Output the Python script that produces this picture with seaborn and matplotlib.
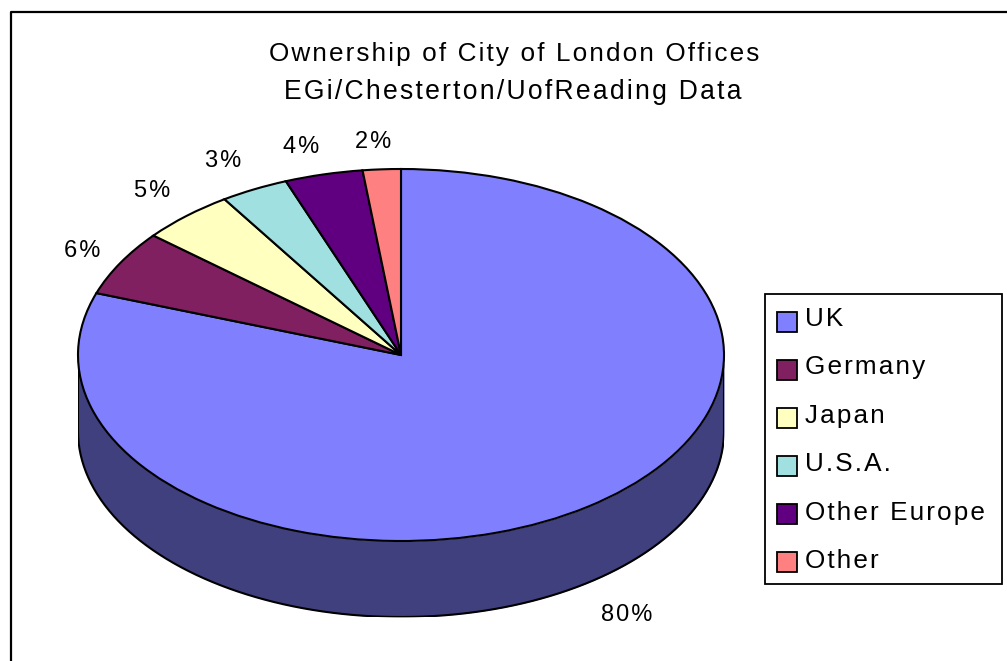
import numpy as np
import matplotlib
matplotlib.use('Agg')
import matplotlib.pyplot as plt
from matplotlib.patches import Rectangle
import seaborn as sns

# values (labels are the rounded versions)
countries = ['UK', 'Germany', 'Japan', 'U.S.A.', 'Other Europe', 'Other']
shares = [80.4, 5.7, 4.7, 3.4, 3.9, 1.9]
labels = ['80%', '6%', '5%', '3%', '4%', '2%']
colors = ['#8080FF', '#802060', '#FFFFC0', '#A0E0E0', '#600080', '#FF8080']
wall_color = '#40407F'
title_lines = ['Ownership of City of London Offices', 'EGi/Chesterton/UofReading Data']

W, H = 1007, 661


# The source has wide letter spacing, hair spaces get close to it
def spaced(s):
    return '\u200a'.join(s)


sns.set_theme(style='white')
plt.rcParams['font.family'] = ['Liberation Sans', 'DejaVu Sans']

fig = plt.figure(figsize=(W / 100, H / 100), dpi=100)

# Background axes in pixel coords for frame, titles and legend
bg = fig.add_axes([0, 0, 1, 1])
bg.set_xlim(0, W)
bg.set_ylim(H, 0)
bg.axis('off')
bg.plot([10.5, 10.5, W], [H, 11.5, 11.5], color='black', lw=1.6, solid_capstyle='butt')
bg.text(514, 54, spaced(title_lines[0]), ha='center', va='center', fontsize=18.8, color='black')
bg.text(513, 92, spaced(title_lines[1]), ha='center', va='center', fontsize=19.1, color='black')

# Pie axes, squashed so the circle turns into the tilted ellipse
depth = 76 / 186
left, right, top, bottom = 78, 724, 169, 617
ax = fig.add_axes([left / W, 1 - bottom / H, (right - left) / W, (bottom - top) / H])
ax.patch.set_alpha(0)
theta = np.linspace(np.pi, 2 * np.pi, 200)
ax.fill_between(np.cos(theta), np.sin(theta) - depth, np.sin(theta), color=wall_color, lw=0, zorder=1)
ax.plot(np.cos(theta), np.sin(theta) - depth, color='black', lw=1.5, zorder=1.5)
ax.plot([-1, -1], [0, -depth], color='black', lw=1.5, zorder=1.5)
ax.plot([1, 1], [0, -depth], color='black', lw=1.5, zorder=1.5)
wedges, _ = ax.pie(shares, colors=colors, startangle=90, counterclock=False,
                   wedgeprops={'edgecolor': 'black', 'linewidth': 1.5, 'zorder': 2})
ax.set_aspect('auto')
ax.set_xlim(-1, 1)
ax.set_ylim(-1 - depth, 1)
for s in ax.spines.values():
    s.set_visible(False)
for w in wedges:
    w.set_clip_on(False)

# percent labels
label_pos = [(627, 615), (82, 251), (152, 191), (223, 161), (301, 147), (373, 142)]
for lab, (x, y) in zip(labels, label_pos):
    bg.text(x, y, spaced(lab), ha='center', va='center', fontsize=17, color='black', zorder=5)

# legend drawn by hand to keep the box where it is in the source
bg.add_patch(Rectangle((764.5, 293.5), 237, 290, fc='white', ec='black', lw=1.3, zorder=6))
for i, (name, c) in enumerate(zip(countries, colors)):
    y = 320 + i * 48
    bg.add_patch(Rectangle((776.5, y - 8), 20, 20, fc=c, ec='black', lw=1.3, zorder=7))
    bg.text(805, y - 1 + i * 0.4, spaced(name), ha='left', va='center', fontsize=18.8, color='black', zorder=7)

fig.savefig('out.png', dpi=100)
